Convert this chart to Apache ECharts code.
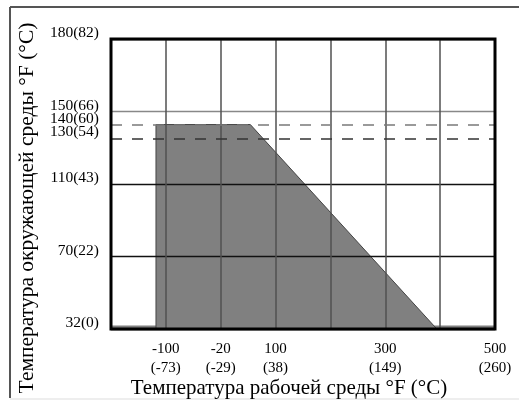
<!DOCTYPE html>
<html><head><meta charset="utf-8">
<script src="https://cdn.jsdelivr.net/npm/echarts@6/dist/echarts.min.js"></script>
<style>html,body{margin:0;padding:0;background:#fff}#c{width:519px;height:401px}</style>
</head><body><div id="c"></div>
<script>
// X axis: grid columns 0..7, labelled positions (°F and °C)
const xTickPos = [1, 2, 3, 5, 7];
const xTickF = ['-100', '-20', '100', '300', '500'];
const xTickC = ['(-73)', '(-29)', '(38)', '(149)', '(260)'];
// Y axis: grid rows 0..4, labelled positions
const yTickPos = [0, 1, 2, 2.63, 2.82, 3, 4];
const yTickLabels = ['32(0)', '70(22)', '110(43)', '130(54)', '140(60)', '150(66)', '180(82)'];
// Operating envelope (in axis units)
const envX = [0.82, 0.82, 2.54, 5.94];
const envY = [0, 2.82, 2.82, 0];
// Dashed limit lines (140 °F and 130 °F)
const limitY = [2.82, 2.63];
const limitColor = ['#7a7a7a', '#333333'];
const bandTop = 0.05;

const FONT = '"Liberation Serif", "Times New Roman", serif';
const chart = echarts.init(document.getElementById('c'), null, {renderer: 'canvas'});

function findIdx(arr, v) { return arr.findIndex(p => Math.abs(p - v) < 1e-6); }

chart.setOption({
  animation: false,
  backgroundColor: '#fff',
  grid: {left: 111, right: 24, top: 39, bottom: 72, show: true, z: 6, outerBoundsMode: 'none', containLabel: false,
         borderColor: '#000', borderWidth: 3, backgroundColor: 'transparent'},
  xAxis: {
    type: 'value', min: 0, max: 7, interval: 1, z: 3,
    axisLine: {show: false}, axisTick: {show: false},
    splitLine: {show: true, lineStyle: {color: '#505050', width: 1.5}},
    axisLabel: {
      customValues: xTickPos, margin: 11,
      fontFamily: FONT, fontSize: 15, color: '#000', lineHeight: 19,
      formatter: v => { const i = findIdx(xTickPos, v); return i < 0 ? '' : xTickF[i] + '\n' + xTickC[i]; }
    },
    name: 'Температура рабочей среды °F (°C)', nameLocation: 'middle', nameGap: 49, nameMoveOverlap: false,
    nameTextStyle: {fontFamily: FONT, fontSize: 21, color: '#000', padding: [0, 28, 0, 0]}
  },
  yAxis: {
    type: 'value', min: 0, max: 4, interval: 1, z: 3,
    axisLine: {show: false}, axisTick: {show: false},
    splitLine: {show: true, lineStyle: {color: ['#000', '#111', '#111', '#888', '#000'], width: 1.3}},
    axisLabel: {
      customValues: yTickPos, margin: 12, verticalAlign: 'bottom', lineHeight: 12,
      fontFamily: FONT, fontSize: 15.5, color: '#000',
      formatter: v => { const i = findIdx(yTickPos, v); return i < 0 ? '' : yTickLabels[i]; }
    },
    name: 'Температура окружающей среды °F (°C)', nameLocation: 'middle', nameGap: 73, nameMoveOverlap: false,
    nameTextStyle: {fontFamily: FONT, fontSize: 21.5, color: '#000', padding: [0, 48, 0, 0]}
  },
  graphic: [
    {type: 'line', shape: {x1: 10, y1: 7, x2: 519, y2: 7}, style: {stroke: '#555', lineWidth: 2}},
    {type: 'line', shape: {x1: 10, y1: 7, x2: 10, y2: 398}, style: {stroke: '#555', lineWidth: 2}},
    {type: 'line', shape: {x1: 10, y1: 399, x2: 519, y2: 399}, style: {stroke: '#ddd', lineWidth: 1}}
  ],
  series: [{
    type: 'line', symbol: 'none', z: 2,
    data: envX.map((x, i) => [x, envY[i]]),
    lineStyle: {color: '#444', width: 1},
    areaStyle: {color: '#808080', opacity: 1},
    markArea: {silent: true, itemStyle: {color: '#808080'},
      data: [[{xAxis: 0, yAxis: 0}, {xAxis: 7, yAxis: bandTop}]]},
    markLine: {silent: true, symbol: 'none', label: {show: false},
      data: limitY.map((y, i) => [
        {coord: [0, y], lineStyle: {color: limitColor[i], type: [11, 10], width: 1.5}},
        {coord: [7, y]}
      ])}
  }]
});
</script></body></html>
